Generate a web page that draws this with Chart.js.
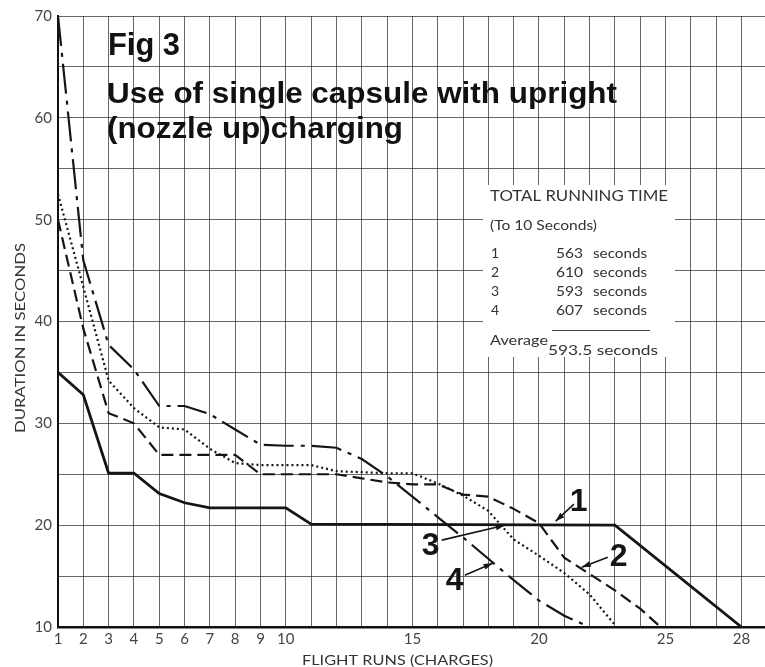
<!DOCTYPE html>
<html>
<head>
<meta charset="utf-8">
<script src="https://cdn.jsdelivr.net/npm/chart.js@4.4.1/dist/chart.umd.min.js"></script>
<style>
  html, body { margin: 0; padding: 0; background: #fff; }
  canvas { display: block; }
</style>
</head>
<body>
<canvas id="fig3" width="765" height="667"></canvas>
<script>
    // data (flight run number -> duration in seconds)
    const run1 = [1, 2, 3, 4, 5, 6, 7, 8, 9, 10, 11, 23, 28];
    const secs1 = [35, 32.8, 25.1, 25.1, 23.1, 22.2, 21.7, 21.7, 21.7, 21.7, 20.1, 20, 10];

    const run2 = [1, 2, 3, 4, 5, 8, 9, 10, 11, 12, 13, 14, 15, 16, 17, 18, 19, 20, 21, 22, 23, 24, 24.8];
    const secs2 = [50, 39.3, 31.0, 30.0, 26.9, 26.9, 25.0, 25.0, 25.0, 25.0, 24.6, 24.2, 24.0, 24.0, 23.0, 22.8, 21.6, 20.2, 16.8, 15.2, 13.6, 11.8, 10];

    const run3 = [1, 2, 3, 4, 5, 6, 7, 8, 9, 10, 11, 12, 13, 14, 15, 16, 17, 18, 19, 20, 21, 22, 23];
    const secs3 = [52.5, 43.4, 34.2, 31.5, 29.6, 29.4, 27.5, 26.1, 25.9, 25.9, 25.9, 25.3, 25.2, 25.1, 25.1, 24.1, 22.9, 21.4, 18.6, 17.0, 15.3, 13.2, 10.2];

    const run4 = [1, 2, 3, 4, 5, 6, 7, 8, 9, 10, 11, 12, 13, 14, 15, 16, 17, 18, 19, 20, 21, 22];
    const secs4 = [70, 46, 37.7, 35.3, 31.7, 31.7, 30.9, 29.4, 27.9, 27.8, 27.8, 27.6, 26.5, 24.8, 22.8, 20.8, 18.8, 16.7, 14.6, 12.6, 11.1, 10];

    const gridRuns = [1, 2, 3, 4, 5, 6, 7, 8, 9, 10, 11, 12, 13, 14, 15, 16, 17, 18, 19, 20, 21, 22, 23, 24, 25, 26, 27, 28];
    const labelRuns = [1, 2, 3, 4, 5, 6, 7, 8, 9, 10, 15, 20, 25, 28];
    const labelSecs = [10, 20, 30, 40, 50, 60, 70];

    const curveNames = ['1', '2', '3', '4'];
    // label position and arrow (from, tip) in data units
    const curveTags = [
        { at: [21.57, 22.36], from: [21.38, 22.07], tip: [20.66, 20.39] },
        { at: [23.15, 16.95], from: [22.72, 16.85], tip: [21.69, 15.87] },
        { at: [15.72, 18.03], from: [16.16, 18.53], tip: [18.65, 20.0] },
        { at: [16.67, 14.59], from: [17.07, 15.08], tip: [18.17, 16.26] }
    ];

    const totalsRows = [['1', '563', 'seconds'], ['2', '610', 'seconds'], ['3', '593', 'seconds'], ['4', '607', 'seconds']];

    function pts(xs, ys) {
        return xs.map((x, i) => ({ x: x, y: ys[i] }));
    }

    function fitText(ctx, text, x, y, w, font, align) {
        ctx.font = font;
        const m = ctx.measureText(text).width;
        ctx.save();
        ctx.translate(x, y);
        ctx.scale(w / m, 1);
        ctx.textAlign = align || 'left';
        ctx.fillText(text, 0, 0);
        ctx.restore();
    }

    const ink = '#151515';
    const lightFont = 'Lato, "DejaVu Sans", sans-serif';

    const paperPlugin = {
        id: 'paper',
        beforeDraw(chart) {
            const ctx = chart.ctx;
            ctx.save();
            ctx.fillStyle = '#fff';
            ctx.fillRect(0, 0, chart.width, chart.height);
            ctx.restore();
        },
        beforeDatasetsDraw(chart) {
            // blank panel behind the totals table
            const ctx = chart.ctx;
            ctx.save();
            ctx.fillStyle = '#fff';
            ctx.fillRect(483, 185, 192, 172);
            ctx.restore();
        },
        afterDraw(chart) {
            const ctx = chart.ctx;
            const xs = chart.scales.x, ys = chart.scales.y;
            ctx.save();
            ctx.textBaseline = 'alphabetic';

            // heading
            ctx.fillStyle = '#111';
            fitText(ctx, 'Fig 3', 108, 55, 72, 'bold 31px "Liberation Sans", Arial, sans-serif');
            fitText(ctx, 'Use of single capsule with upright', 107, 103, 510, 'bold 29px "Liberation Sans", Arial, sans-serif');
            fitText(ctx, '(nozzle up)charging', 107, 138, 296, 'bold 29px "Liberation Sans", Arial, sans-serif');

            // totals table
            ctx.fillStyle = '#333';
            fitText(ctx, 'TOTAL RUNNING TIME', 490, 201, 178, '15px ' + lightFont);
            fitText(ctx, '(To 10 Seconds)', 490, 230, 107, '14px ' + lightFont);
            totalsRows.forEach((row, i) => {
                const by = 258 + i * 19;
                ctx.font = '14px ' + lightFont;
                ctx.textAlign = 'left';
                ctx.fillText(row[0], 491, by);
                fitText(ctx, row[1], 556, by, 27, '14px ' + lightFont);
                fitText(ctx, row[2], 593, by, 54, '14px ' + lightFont);
            });
            ctx.strokeStyle = '#444';
            ctx.lineWidth = 1;
            ctx.beginPath();
            ctx.moveTo(552, 330.5);
            ctx.lineTo(650, 330.5);
            ctx.stroke();
            fitText(ctx, 'Average', 490, 345, 58, '14px ' + lightFont);
            fitText(ctx, '593.5 seconds', 548, 355, 110, '14px ' + lightFont);

            // axis titles
            ctx.fillStyle = '#333';
            fitText(ctx, 'FLIGHT RUNS (CHARGES)', 302, 665, 191, '14px ' + lightFont);
            ctx.save();
            ctx.translate(25, 433);
            ctx.rotate(-Math.PI / 2);
            fitText(ctx, 'DURATION IN SECONDS', 0, 0, 190, '14px ' + lightFont);
            ctx.restore();

            // curve tags with arrows
            curveTags.forEach((t, i) => {
                const lx = xs.getPixelForValue(t.at[0]), ly = ys.getPixelForValue(t.at[1]);
                const fx = xs.getPixelForValue(t.from[0]), fy = ys.getPixelForValue(t.from[1]);
                const tx = xs.getPixelForValue(t.tip[0]), ty = ys.getPixelForValue(t.tip[1]);
                ctx.fillStyle = ink;
                ctx.font = 'bold 32px "Liberation Sans", Arial, sans-serif';
                ctx.textAlign = 'center';
                ctx.textBaseline = 'middle';
                ctx.fillText(curveNames[i], lx, ly + 1);
                ctx.strokeStyle = ink;
                ctx.lineWidth = 1.6;
                ctx.beginPath();
                ctx.moveTo(fx, fy);
                ctx.lineTo(tx, ty);
                ctx.stroke();
                const a = Math.atan2(ty - fy, tx - fx);
                ctx.beginPath();
                ctx.moveTo(tx, ty);
                ctx.lineTo(tx - 9 * Math.cos(a) + 3 * Math.sin(a), ty - 9 * Math.sin(a) - 3 * Math.cos(a));
                ctx.lineTo(tx - 9 * Math.cos(a) - 3 * Math.sin(a), ty - 9 * Math.sin(a) + 3 * Math.cos(a));
                ctx.closePath();
                ctx.fill();
            });
            ctx.restore();
        }
    };

    const ctxFig = document.getElementById('fig3');
    const fig3Chart = new Chart(ctxFig.getContext('2d'), {
        type: 'line',
        data: {
            datasets: [
                {
                    label: '1',
                    data: pts(run1, secs1),
                    borderColor: ink,
                    borderWidth: 2.8,
                    tension: 0
                },
                {
                    label: '2',
                    data: pts(run2, secs2),
                    borderColor: ink,
                    borderWidth: 2.2,
                    borderDash: [12, 6],
                    tension: 0
                },
                {
                    label: '3',
                    data: pts(run3, secs3),
                    borderColor: ink,
                    borderWidth: 2.2,
                    borderDash: [2, 3],
                    tension: 0
                },
                {
                    label: '4',
                    data: pts(run4, secs4),
                    borderColor: ink,
                    borderWidth: 2.2,
                    borderDash: [30, 7, 4, 7],
                    tension: 0
                }
            ]
        },
        options: {
            responsive: false,
            animation: false,
            devicePixelRatio: 1,
            layout: { padding: { top: 16, right: 0, left: 0, bottom: 0 } },
            elements: { point: { radius: 0 } },
            plugins: {
                legend: { display: false },
                tooltip: { enabled: false }
            },
            scales: {
                x: {
                    type: 'linear',
                    min: 1,
                    max: 28.93,
                    afterBuildTicks: function (scale) {
                        scale.ticks = gridRuns.map(v => ({ value: v }));
                    },
                    afterFit: function (scale) {
                        scale.height = 40;
                    },
                    ticks: {
                        autoSkip: false,
                        maxRotation: 0,
                        padding: 3,
                        color: '#444',
                        font: { family: lightFont, size: 15 },
                        callback: function (value) {
                            return labelRuns.includes(value) ? String(value) : '';
                        }
                    },
                    grid: { color: 'rgba(40,40,40,0.7)', lineWidth: 1, drawTicks: false },
                    border: { color: '#111', width: 2.5 }
                },
                y: {
                    min: 10,
                    max: 70,
                    ticks: {
                        stepSize: 5,
                        padding: 6,
                        color: '#444',
                        font: { family: lightFont, size: 15 },
                        callback: function (value) {
                            return labelSecs.includes(value) ? String(value) : '';
                        }
                    },
                    afterFit: function (scale) {
                        scale.width = 58;
                    },
                    grid: { color: 'rgba(40,40,40,0.7)', lineWidth: 1, drawTicks: false },
                    border: { color: '#111', width: 2 }
                }
            }
        },
        plugins: [paperPlugin]
    });
</script>
</body>
</html>
